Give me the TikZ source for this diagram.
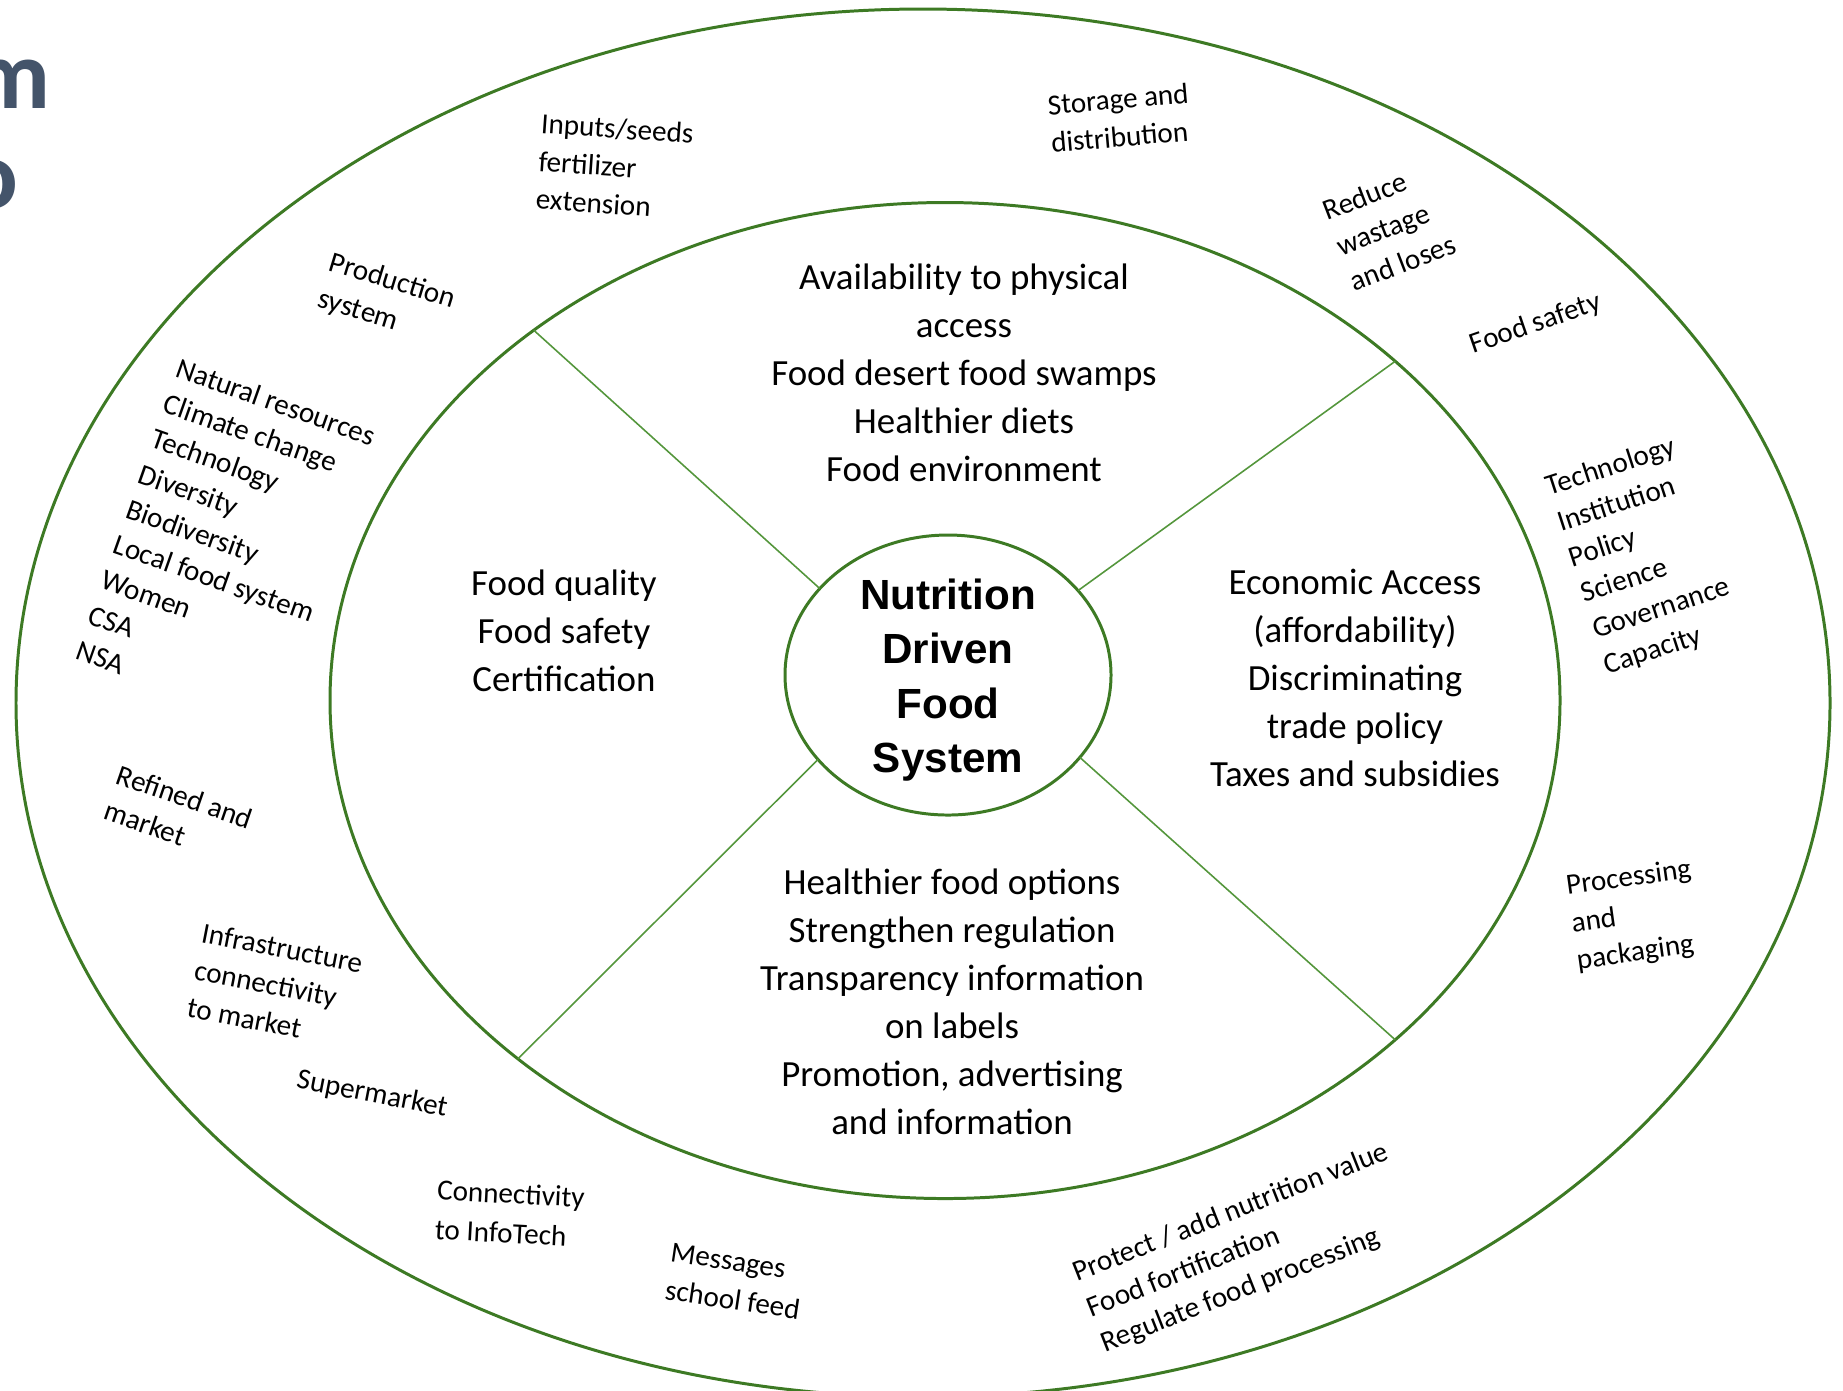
\documentclass[tikz,border=0pt]{standalone}
\usepackage{fontspec}
\setmainfont{Carlito}
\newfontfamily\hubfont{Liberation Sans}
\usetikzlibrary{shapes,positioning}
\definecolor{ringgreen}{RGB}{61,122,36}
\definecolor{spokegreen}{RGB}{84,150,60}
\definecolor{slate}{RGB}{68,84,106}

\begin{document}
\begin{tikzpicture}[x=1cm, y=-1cm,
    ring/.style={draw=ringgreen, line width=0.85pt, ellipse, inner sep=0pt, outer sep=0pt},
    spoke/.style={draw=spokegreen, line width=0.45pt},
    quadtext/.style={align=center, inner sep=0pt, font=\fontsize{10.5}{13.66}\selectfont},
    ringtext/.style={align=left, inner sep=0pt, anchor=base west, font=\fontsize{8.3}{10.8}\selectfont},
    hubtext/.style={align=center, inner sep=0pt, font=\hubfont\bfseries\fontsize{12}{15.45}\selectfont},
    title/.style={anchor=base east, inner sep=0pt, text=slate, font=\bfseries\fontsize{28}{28}\selectfont}]
    \useasboundingbox (0,0) rectangle (18.43,13.90);
    \clip (0,0) rectangle (18.43,13.90);

    % Title (runs off the left edge)
    \node[title] (t1) at (0.51,1.08) {m};
    \node[title] (t2) at (0.19,2.08) {o};

    % Rings
    \node[ring, minimum width=18.14cm, minimum height=13.88cm] (outer) at (9.23,7.03) {};
    \node[ring, minimum width=12.30cm, minimum height=9.96cm] (inner) at (9.45,7.005) {};
    \node[ring, minimum width=3.26cm, minimum height=2.80cm] (hub) at (9.48,6.75) {};

    % Spokes
    \draw[spoke] (hub.146.8) -- (inner.138.9);
    \draw[spoke] (hub.33.8) -- (inner.37.6);
    \draw[spoke] (hub.213.4) -- (inner.220.7);
    \draw[spoke] (hub.328.7) -- (inner.323.9);

    % Centre
    \node[hubtext] (nfs) at (9.48,6.80) {Nutrition\\Driven\\Food\\System};

    % Inner ring
    \node[quadtext] (access) at (9.64,3.73) {Availability to physical\\access\\Food desert food swamps\\Healthier diets\\Food environment};
    \node[quadtext] (quality) at (5.64,6.31) {Food quality\\Food safety\\Certification};
    \node[quadtext] (afford) at (13.55,6.78) {Economic Access\\(affordability)\\Discriminating\\trade policy\\Taxes and subsidies};
    \node[quadtext] (options) at (9.52,10.015) {Healthier food options\\Strengthen regulation\\Transparency information\\on labels\\Promotion, advertising\\and information};

    % Outer ring, clockwise from the top (anchored on the last line)
    \node[ringtext, rotate=-4] (inputs) at (5.347,2.088) {Inputs/seeds\\fertilizer\\extension};
    \node[ringtext, rotate=5] (storage) at (10.513,1.529) {Storage and\\distribution};
    \node[ringtext, rotate=21] (wastage) at (13.542,2.92) {Reduce\\wastage\\and loses};
    \node[ringtext, rotate=19] (safety) at (14.73,3.54) {Food safety};
    \node[ringtext, rotate=18, font=\fontsize{8.3}{10.67}\selectfont] (governance) at (16.069,6.743) {Technology\\Institution\\Policy\\Science\\Governance\\Capacity};
    \node[ringtext, rotate=8, font=\fontsize{8.3}{10.67}\selectfont] (packaging) at (15.774,9.693) {Processing\\and\\packaging};
    \node[ringtext, rotate=21.5] (fortify) at (11.049,13.527) {Protect / add nutrition value\\Food fortification\\Regulate food processing};
    \node[ringtext, rotate=-8.5, font=\fontsize{8.3}{10.95}\selectfont] (messages) at (6.633,12.991) {Messages\\school feed};
    \node[ringtext, rotate=-3, font=\fontsize{8.3}{11.2}\selectfont] (infotech) at (4.34,12.39) {Connectivity\\to InfoTech};
    \node[ringtext, rotate=-11] (supermarket) at (2.95,10.875) {Supermarket};
    \node[ringtext, rotate=-11] (infra) at (1.852,10.164) {Infrastructure\\connectivity\\to market};
    \node[ringtext, rotate=-19] (refined) at (1.015,8.187) {Refined and\\market};
    \node[ringtext, rotate=-19.5, font=\fontsize{8.3}{10.64}\selectfont] (resources) at (0.738,6.581) {Natural resources\\Climate change\\Technology\\Diversity\\Biodiversity\\Local food system\\Women\\CSA\\NSA};
    \node[ringtext, rotate=-17] (production) at (3.159,3.063) {Production\\system};
\end{tikzpicture}
\end{document}
